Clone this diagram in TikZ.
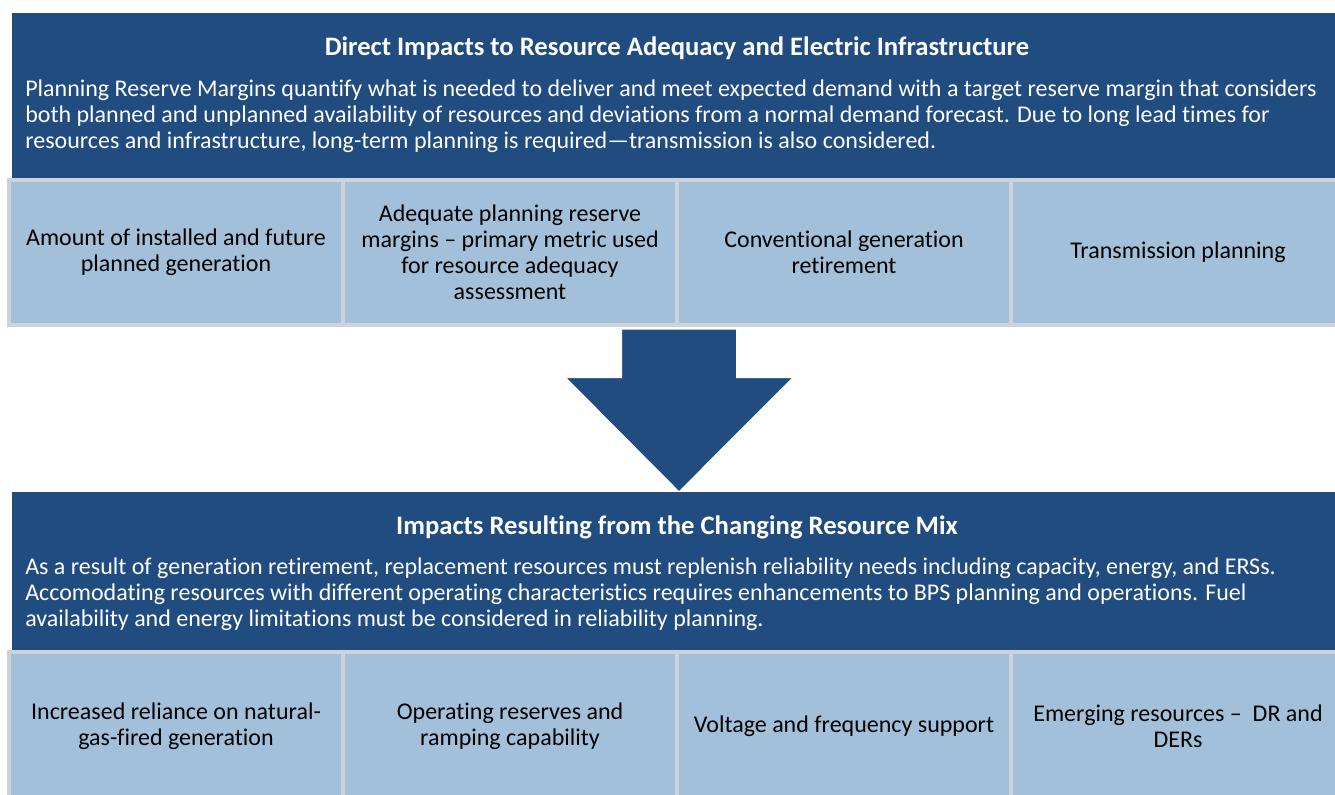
\documentclass[tikz,border=0pt]{standalone}
\usepackage{fontspec}
\setmainfont{Carlito}[Ligatures=NoCommon]
\usetikzlibrary{calc}
\definecolor{hdrblue}{RGB}{33,76,127}
\definecolor{cellblue}{RGB}{162,192,217}
\definecolor{cellgrey}{RGB}{206,211,219}
\newcommand{\bodyfont}{\fontsize{18pt}{19.5pt}\selectfont}
\newcommand{\titlefont}{\fontsize{20pt}{22pt}\selectfont\bfseries}

\begin{document}
\begin{tikzpicture}[x=0.75pt,y=-0.75pt,
  hdrbox/.style={fill=hdrblue, draw=none, inner sep=0pt, minimum width=999.75pt},
  hdrtitle/.style={text=white, font=\titlefont, inner sep=0pt},
  hdrtext/.style={text=white, font=\bodyfont, align=left, inner sep=0pt, anchor=west},
  cell/.style={fill=cellblue, draw=cellgrey, line width=3pt, minimum width=250.5pt, align=center, font=\bodyfont, inner sep=0pt},
  bigarrow/.style={fill=hdrblue, draw=white, line width=0.75pt, line join=miter}]

\useasboundingbox (0,0) rectangle (1335,794);
\clip (0,0) rectangle (1335,794);

\node[hdrbox, minimum height=125.25pt] (hdr1) at (678.5,96.5) {};
\node[hdrtitle] (title1) at (677,48) {Direct Impacts to Resource Adequacy and Electric Infrastructure};
\node[hdrtext] (text1) at (25,116) {Planning Reserve Margins quantify what is needed to deliver and meet expected demand with a target reserve margin that considers\\both planned and unplanned availability of resources and deviations from a normal demand forecast. Due to long lead times for\\resources and infrastructure, long-term planning is required---transmission is also considered.};

\node[cell, minimum height=108.375pt] (t1) at (176,252.25) {Amount of installed and future\\planned generation};
\node[cell, minimum height=108.375pt] (t2) at (510,252.25) {Adequate planning reserve\\margins -- primary metric used\\for resource adequacy\\assessment};
\node[cell, minimum height=108.375pt] (t3) at (844,252.25) {Conventional generation\\retirement};
\node[cell, minimum height=108.375pt] (t4) at (1178,252.25) {Transmission planning};

\node[hdrbox, minimum height=120pt] (hdr2) at (678.5,572) {};
\node[hdrtitle] (title2) at (677,527) {Impacts Resulting from the Changing Resource Mix};
\node[hdrtext] (text2) at (25,594.5) {As a result of generation retirement, replacement resources must replenish reliability needs including capacity, energy, and ERSs.\\Accomodating resources with different operating characteristics requires enhancements to BPS planning and operations. Fuel\\availability and energy limitations must be considered in reliability planning.};

\node[cell, minimum height=111pt] (b1) at (176,726) {Increased reliance on natural-\\gas-fired generation};
\node[cell, minimum height=111pt] (b2) at (510,726) {Operating reserves and\\ramping capability};
\node[cell, minimum height=111pt] (b3) at (844,726) {Voltage and frequency support};
\node[cell, minimum height=111pt] (b4) at (1178,726) {Emerging resources --~~DR and\\DERs};

\draw[bigarrow] ($(t2.south east)+(-57.5,2.5)$) -- ($(t2.south east)+(-57.5,51)$) -- ($(t2.south east)+(-113.5,51)$) -- (t2.south east |- hdr2.north) -- ($(t2.south east)+(114,51)$) -- ($(t2.south east)+(57.5,51)$) -- ($(t2.south east)+(57.5,2.5)$) -- cycle;

\end{tikzpicture}
\end{document}
